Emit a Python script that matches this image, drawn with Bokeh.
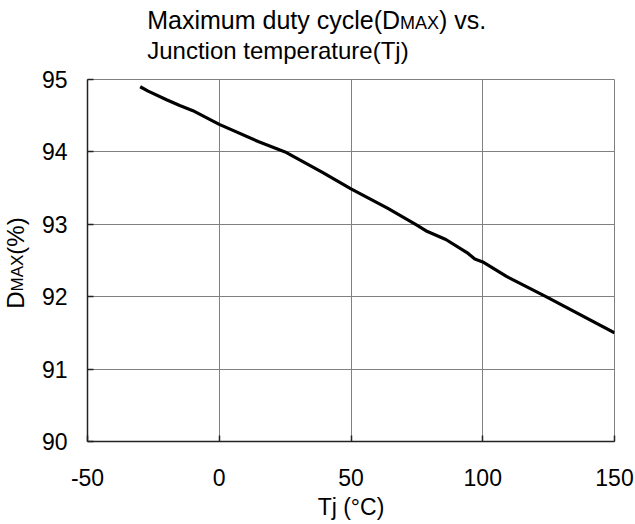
import math
from bokeh.plotting import figure
from bokeh.models import Range1d, FixedTicker
from bokeh.layouts import column, row
from bokeh.core.properties import value
from bokeh.embed import file_html
from bokeh.resources import INLINE

# ---- data ----
tj = [-30, -27, -20, -15, -10, 0, 15, 25, 30, 39, 50, 64, 75, 79, 86, 94, 97, 100, 109, 124, 150]
dmax = [94.90, 94.84, 94.72, 94.64, 94.57, 94.38, 94.14, 94.00, 93.90, 93.72, 93.49,
        93.22, 92.99, 92.90, 92.79, 92.61, 92.52, 92.48, 92.28, 92.00, 91.50]
x_ticks = [-50, 0, 50, 100, 150]
y_ticks = [90, 91, 92, 93, 94, 95]
x_tick_labels = ["-50", "0", "50", "100", "150"]

title_line1 = ["Maximum duty cycle(D", "MAX", ") vs."]
title_line2 = "Junction temperature(Tj)"
ylabel_parts = ["D", "MAX", " (%)"]
xlabel = "Tj (°C)"

FONT = "Liberation Sans"

# Arial / Liberation Sans advance widths (1/1000 em)
W = {' ': 278, '(': 333, ')': 333, '%': 889, '.': 278, 'A': 667, 'D': 722, 'M': 833,
     'X': 667, 'J': 500, 'T': 611, 'a': 556, 'c': 500, 'd': 556, 'e': 556, 'i': 222,
     'j': 222, 'l': 222, 'm': 833, 'n': 556, 'o': 556, 'p': 556, 'r': 333, 's': 500,
     't': 278, 'u': 556, 'v': 500, 'x': 500, 'y': 500}
MID = (0.905 - 0.212) / 2  # baseline -> middle of the text box, in em


def tw(s, size):
    return sum(W.get(ch, 556) for ch in s) * size / 1000.0


TOTAL_W, TOTAL_H = 635, 524
TITLE_H = 66
YLAB_W = 38
MAIN_W = TOTAL_W - YLAB_W
MAIN_H = TOTAL_H - TITLE_H
BORDER_TOP = 13
BORDER_BOTTOM = 83
FRAME_H = MAIN_H - BORDER_TOP - BORDER_BOTTOM
FRAME_TOP = TITLE_H + BORDER_TOP  # page y of the plot frame's top edge


def blank_fig(w, h, top=0, bottom=0):
    f = figure(width=w, height=h, output_backend="svg", toolbar_location=None, title=None,
               x_range=Range1d(0, w), y_range=Range1d(0, h - top - bottom),
               min_border_left=0, min_border_right=0,
               min_border_top=top, min_border_bottom=bottom,
               x_axis_type=None, y_axis_type=None)
    f.grid.visible = False
    f.outline_line_color = None
    f.background_fill_color = "white"
    f.border_fill_color = "white"
    return f


def put_text(f, x, y, txt, size, angle=0.0):
    f.text(x=[x], y=[y], text=[txt], angle=angle, text_font=value(FONT),
           text_font_size=value(f"{size}px"), text_color="black",
           text_align="left", text_baseline="middle")


# ---- title figure (baselines at page y 28.3 and 58.3) ----
tf = blank_fig(TOTAL_W, TITLE_H)
tx = 146.7
for txt, sz in zip(title_line1, [25, 18, 25]):
    put_text(tf, tx, TITLE_H - 28.3 + MID * sz, txt, sz)
    tx += tw(txt, sz)
put_text(tf, 146.7, TITLE_H - 58.3 + MID * 24, title_line2, 24)

# ---- y label figure (same top/bottom borders as the plot), baseline at page x 23.3 ----
yf = blank_fig(YLAB_W, MAIN_H, BORDER_TOP, BORDER_BOTTOM)
ty = FRAME_H - (308.3 - FRAME_TOP)
for txt, sz in zip(ylabel_parts, [24, 17, 24]):
    put_text(yf, 23.3 - MID * sz, ty, txt, sz, angle=math.pi / 2)
    ty += tw(txt, sz)

# ---- main plot ----
p = figure(width=MAIN_W, height=MAIN_H, output_backend="svg", toolbar_location=None,
           x_range=Range1d(-50, 150), y_range=Range1d(90, 95),
           min_border_left=47, min_border_right=21,
           min_border_top=BORDER_TOP, min_border_bottom=BORDER_BOTTOM)
p.background_fill_color = "white"
p.border_fill_color = "white"
p.outline_line_color = "#808080"
p.outline_line_width = 1

p.line(tj, dmax, line_color="black", line_width=3.2)

for ax, ticks in ((p.xaxis[0], x_ticks), (p.yaxis[0], y_ticks)):
    ax.ticker = FixedTicker(ticks=ticks)
    ax.minor_tick_line_color = None
    ax.major_tick_in = 6
    ax.major_tick_out = 0
    ax.major_tick_line_color = "#222222"
    ax.major_tick_line_width = 1.5
    ax.axis_line_color = "#222222"
    ax.axis_line_width = 1.5
    ax.major_label_text_font = FONT
    ax.major_label_text_font_size = "23px"
    ax.major_label_text_color = "black"

p.xaxis.major_label_overrides = {v: s for v, s in zip(x_ticks, x_tick_labels)}
p.xaxis.major_label_standoff = 27
p.yaxis.major_label_standoff = 20
p.xaxis.axis_label = xlabel
p.xaxis.axis_label_text_font = FONT
p.xaxis.axis_label_text_font_size = "23px"
p.xaxis.axis_label_text_font_style = "normal"
p.xaxis.axis_label_text_color = "black"
p.xaxis.axis_label_standoff = 5

p.xgrid.ticker = FixedTicker(ticks=x_ticks)
p.ygrid.ticker = FixedTicker(ticks=y_ticks)
p.grid.grid_line_color = "#808080"
p.grid.grid_line_width = 1

layout = column(tf, row(yf, p))
open("out.html", "w").write(file_html(layout, INLINE))
